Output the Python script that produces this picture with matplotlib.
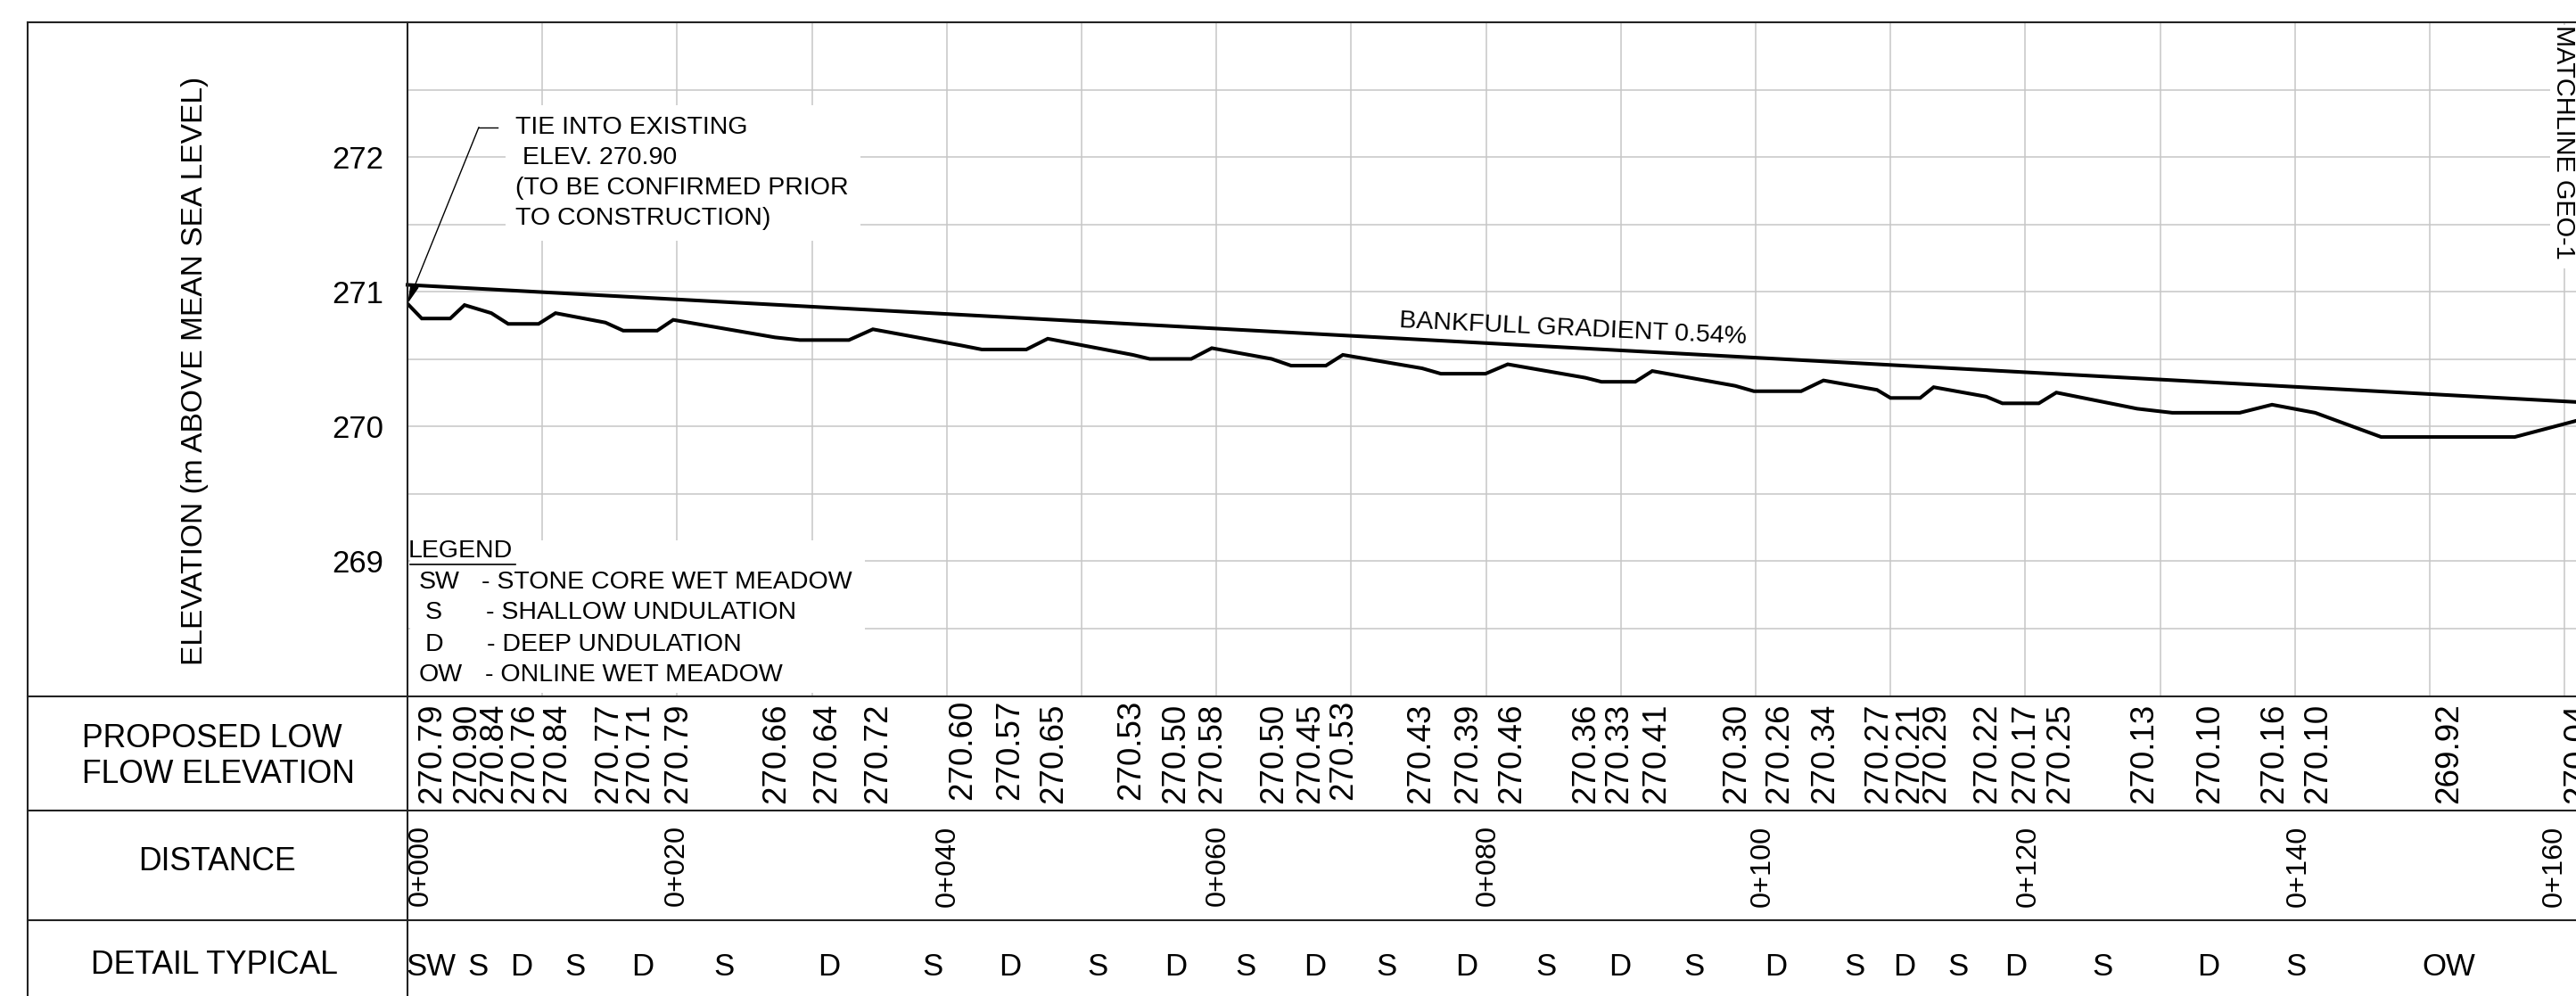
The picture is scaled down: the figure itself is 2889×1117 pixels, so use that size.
import matplotlib
matplotlib.use("Agg")
import matplotlib.pyplot as plt
from matplotlib.lines import Line2D
from matplotlib.patches import Rectangle
from matplotlib.transforms import blended_transform_factory, ScaledTranslation
import numpy as np

plt.rcParams['font.family'] = ['Liberation Sans', 'DejaVu Sans']

# ---- data -------------------------------------------------------------
profile_station = [0, 1.06, 3.17, 4.23, 6.22, 7.47, 9.72, 10.98, 14.68, 16.0, 18.52, 19.71,
                   27.25, 29.1, 32.74, 34.52, 41.07, 42.6, 45.9, 47.49, 53.8, 55.06, 58.13,
                   59.66, 64.09, 65.54, 68.12, 69.38, 75.26, 76.65, 79.96, 81.61, 87.37,
                   88.56, 91.07, 92.33, 98.48, 99.87, 103.37, 105.03, 109.0, 110.0, 112.2,
                   113.2, 117.1, 118.3, 121.0, 122.3, 128.3, 130.9, 135.9, 138.3, 141.5,
                   146.4, 156.3, 160.85]
profile_elev = [270.91, 270.80, 270.80, 270.90, 270.84, 270.76, 270.76, 270.84, 270.77, 270.71,
                270.71, 270.79, 270.66, 270.64, 270.64, 270.72, 270.60, 270.57, 270.57, 270.65,
                270.53, 270.50, 270.50, 270.58, 270.50, 270.45, 270.45, 270.53, 270.43, 270.39,
                270.39, 270.46, 270.36, 270.33, 270.33, 270.41, 270.30, 270.26, 270.26, 270.34,
                270.27, 270.21, 270.21, 270.29, 270.22, 270.17, 270.17, 270.25, 270.13, 270.10,
                270.10, 270.16, 270.10, 269.92, 269.92, 270.04]
bankfull_station = [0, 160.85]
bankfull_elev = [271.05, 270.18]

low_flow_station = [1.72, 4.30, 6.28, 8.60, 10.98, 14.81, 17.13, 19.97, 27.25, 31.02, 34.79,
                    41.07, 44.58, 47.82, 53.57, 56.88, 59.59, 64.15, 66.87, 69.31, 75.07,
                    78.57, 81.81, 87.30, 89.75, 92.53, 98.48, 101.65, 105.03, 108.99, 111.31,
                    113.29, 117.06, 119.91, 122.49, 128.70, 133.60, 138.36, 141.60, 151.32,
                    160.85]
low_flow_labels = ['270.79', '270.90', '270.84', '270.76', '270.84', '270.77', '270.71', '270.79',
                   '270.66', '270.64', '270.72', '270.60', '270.57', '270.65', '270.53', '270.50',
                   '270.58', '270.50', '270.45', '270.53', '270.43', '270.39', '270.46', '270.36',
                   '270.33', '270.41', '270.30', '270.26', '270.34', '270.27', '270.21', '270.29',
                   '270.22', '270.17', '270.25', '270.13', '270.10', '270.16', '270.10', '269.92',
                   '270.04']
distance_station = [0.86, 19.84, 39.9, 60.0, 80.0, 100.4, 120.1, 140.1, 159.1]
distance_labels = ['0+000', '0+020', '0+040', '0+060', '0+080', '0+100', '0+120', '0+140', '0+160']
detail_station = [1.72, 5.22, 8.47, 12.43, 17.46, 23.48, 31.28, 38.96, 44.71, 51.19, 57.02, 62.18,
                  67.33, 72.62, 78.57, 84.46, 89.95, 95.44, 101.52, 107.34, 111.05, 115.02,
                  119.32, 125.74, 133.6, 140.1, 151.4]
detail_labels = ['SW', 'S', 'D', 'S', 'D', 'S', 'D', 'S', 'D', 'S', 'D', 'S', 'D', 'S', 'D', 'S',
                 'D', 'S', 'D', 'S', 'D', 'S', 'D', 'S', 'D', 'S', 'OW']
note_lines = ['TIE INTO EXISTING', ' ELEV. 270.90', '(TO BE CONFIRMED PRIOR', 'TO CONSTRUCTION)']
legend_codes = ['SW', 'S', 'D', 'OW']
legend_texts = ['- STONE CORE WET MEADOW', '- SHALLOW UNDULATION', '- DEEP UNDULATION',
                '- ONLINE WET MEADOW']

# ---- layout -----------------------------------------------------------
W, H = 2889, 1117
fig = plt.figure(figsize=(W / 100, H / 100), dpi=100, facecolor='white')
AX_L, AX_T, AX_B = 457, 25, 780
ax = fig.add_axes([AX_L / W, 1 - AX_B / H, (W - AX_L) / W, (AX_B - AX_T) / H])
ax.set_xlim(0, (W - AX_L) / 15.12)
ax.set_ylim(268, 273)

def fx(x):
    return x / W

def fy(y):
    return 1 - y / H

def dx(x):
    return (x - AX_L) / 15.12

def dy(y):
    return 273 - (y - AX_T) / 151.0

GRID = '#c6c6c6'
ax.set_xticks(np.arange(10, 161, 10))
ax.set_yticks([269, 270, 271, 272])
ax.set_yticks(np.arange(268.5, 273, 1.0), minor=True)
ax.set_xticklabels([])
ax.set_yticklabels(['269', '270', '271', '272'], fontsize=25)
ax.tick_params(axis='both', which='both', length=0)
ax.tick_params(axis='y', pad=19)
ax.grid(True, which='both', color=GRID, lw=1.1)
ax.set_axisbelow(True)
for name in ['top', 'right', 'bottom']:
    ax.spines[name].set_visible(False)
ax.spines['left'].set_color('#222222')
ax.spines['left'].set_linewidth(1.4)

# masks behind annotations
for x0, y0, x1, y1 in [(567, 118, 965, 270), (460, 606, 970, 777), (2860, 28, 2889, 301)]:
    ax.add_patch(Rectangle((dx(x0), dy(y1)), dx(x1) - dx(x0), dy(y0) - dy(y1),
                           fc='white', ec='none', zorder=1))

# series
ax.plot(bankfull_station, bankfull_elev, color='black', lw=2.9, zorder=3, clip_on=False)
ax.plot(profile_station, profile_elev, color='black', lw=2.9, zorder=3,
        solid_joinstyle='miter')

# leader
elbow_x, elbow_y, tail_x = dx(537), dy(142.7), dx(558)
ax.plot([elbow_x, tail_x], [elbow_y, elbow_y], color='black', lw=1.0, zorder=3)
ax.annotate('', xy=(0, 270.91), xytext=(elbow_x, elbow_y), zorder=4,
            arrowprops=dict(arrowstyle='-|>,head_length=1.3,head_width=0.3', lw=1.0,
                            color='black', fc='black', shrinkA=0, shrinkB=0, mutation_scale=10))

# table rules
RULE = dict(color='#222222', lw=1.5)
for y in [25, 780.5, 908.5, 1032]:
    fig.add_artist(Line2D([fx(31), 1], [fy(y), fy(y)], transform=fig.transFigure, **RULE))
for x, y0 in [(31, 25), (457, 25)]:
    fig.add_artist(Line2D([fx(x), fx(x)], [fy(y0), 0], transform=fig.transFigure, **RULE))

# annotation text
NOTE = 20.5
for i, line in enumerate(note_lines):
    fig.text(fx(578), fy(143.5 + i * 34), line, fontsize=NOTE, va='center', ha='left')
fig.text(fx(1764), fy(369), 'BANKFULL GRADIENT 0.54%', fontsize=NOTE, rotation=-2.7,
         rotation_mode='anchor', ha='center', va='center')
fig.text(fx(2875), fy(159), 'MATCHLINE GEO-1', fontsize=20.8, rotation=-90, ha='center', va='center')
fig.text(fx(458), fy(618), 'LEGEND', fontsize=NOTE, va='center', ha='left')
fig.add_artist(Line2D([fx(460), fx(578)], [fy(633), fy(633)], transform=fig.transFigure,
                      color='black', lw=1.2))
legend_rows = zip(legend_codes, legend_texts, [470, 477, 477, 470], [540, 545, 546, 544],
                  [653.5, 687.5, 722.5, 756.5])
for code, text, x0, x1, y in legend_rows:
    fig.text(fx(x0), fy(y), code, fontsize=NOTE, va='center', ha='left')
    fig.text(fx(x1), fy(y), text, fontsize=NOTE, va='center', ha='left')

# left column
fig.text(fx(219), fy(416), 'ELEVATION (m ABOVE MEAN SEA LEVEL)', fontsize=24.1, rotation=90,
         ha='center', va='center')
fig.text(fx(92), fy(828), 'PROPOSED LOW', fontsize=25.6, ha='left', va='center')
fig.text(fx(245), fy(869), 'FLOW ELEVATION', fontsize=25.6, ha='center', va='center')
fig.text(fx(243.5), fy(966), 'DISTANCE', fontsize=25.6, ha='center', va='center')
fig.text(fx(240), fy(1082), 'DETAIL TYPICAL', fontsize=25.6, ha='center', va='center')

# table rows
row = blended_transform_factory(ax.transData, fig.transFigure)
rot = row + ScaledTranslation(2 / 100, 0, fig.dpi_scale_trans)
raised = {'270.60', '270.57', '270.53'}
for s, lab in zip(low_flow_station, low_flow_labels):
    ax.text(s, fy(841 if lab in raised else 845), lab, transform=rot, rotation=90, fontsize=26.5,
            ha='center', va='center', clip_on=False)
for s, lab in zip(distance_station, distance_labels):
    ax.text(s, fy(971), lab, transform=rot, rotation=90, fontsize=23.4, ha='center', va='center',
            clip_on=False)
for s, lab in zip(detail_station, detail_labels):
    ax.text(s, fy(1084), lab, transform=row, fontsize=25, ha='center', va='center', clip_on=False)

fig.savefig('out.png', dpi=100, facecolor='white')
